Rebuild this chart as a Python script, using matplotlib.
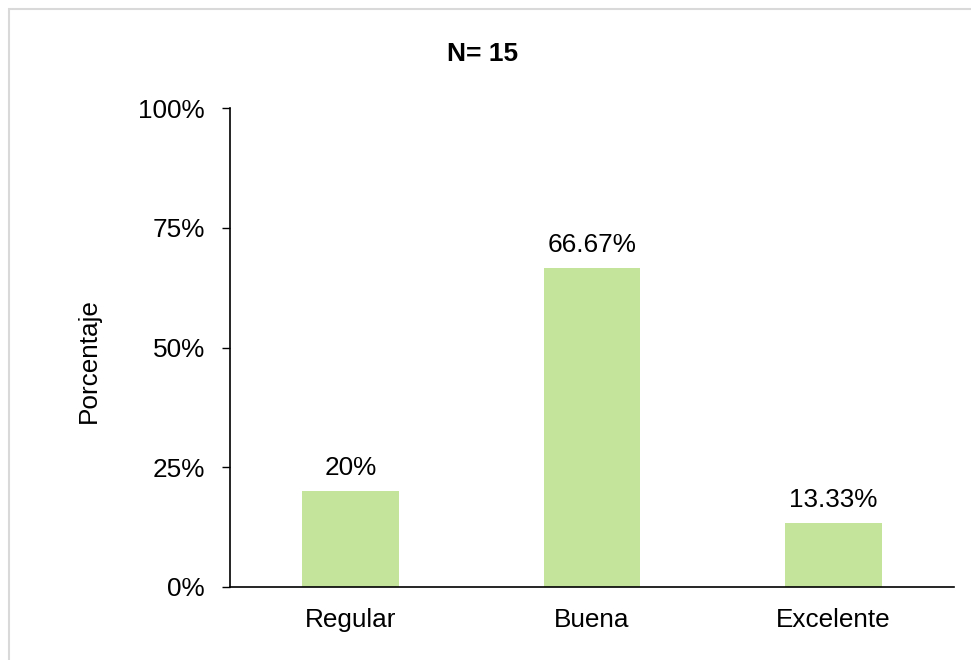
import matplotlib
matplotlib.use("Agg")
import matplotlib.pyplot as plt
from matplotlib.patches import Rectangle

categories = ["Regular", "Buena", "Excelente"]
percentages = [20.0, 66.67, 13.33]
value_labels = ["20%", "66.67%", "13.33%"]
yticks = [0, 25, 50, 75, 100]
ytick_labels = ["0%", "25%", "50%", "75%", "100%"]

plt.rcParams["font.family"] = ["Liberation Sans", "DejaVu Sans"]
FS = 18.8

W, H = 971, 660
fig = plt.figure(figsize=(W / 100, H / 100), dpi=100)
ax = fig.add_axes([230 / W, 1 - 587 / H, (954 - 230) / W, (587 - 108) / H])

x = list(range(len(categories)))
ax.bar(x, percentages, width=0.4, color="#C4E39B", edgecolor="none")
for xi, v, lab in zip(x, percentages, value_labels):
    ax.annotate(lab, (xi, v), xytext=(0, 16), textcoords="offset pixels",
                ha="center", va="baseline", fontsize=FS)

ax.set_xlim(-0.5, 2.5)
ax.set_ylim(0, 100)
ax.set_xticks(x)
ax.set_xticklabels(categories, fontsize=FS)
ax.set_yticks(yticks)
ax.set_yticklabels(ytick_labels, fontsize=FS)
ax.tick_params(axis="x", length=0, pad=15)
ax.tick_params(axis="y", length=6, width=1, pad=12)
ax.spines["top"].set_visible(False); ax.spines["right"].set_visible(False)
for s in ("left", "bottom"):
    ax.spines[s].set_linewidth(1.2)

fig.text(483 / W, 1 - 54 / H, "N= 15", ha="center", va="center",
         fontsize=19, fontweight="bold")
fig.text(89 / W, 1 - 361 / H, "Porcentaje", ha="center", va="center",
         rotation=90, fontsize=FS)

# light gray outer frame (cut off on the right and bottom)
fig.patches.append(Rectangle((9 / W, -0.1), 1.2, 1.1 - 9 / H,
                             transform=fig.transFigure, fill=False,
                             edgecolor="#D9D9D9", linewidth=1.5))

fig.savefig("out.png", dpi=100)
